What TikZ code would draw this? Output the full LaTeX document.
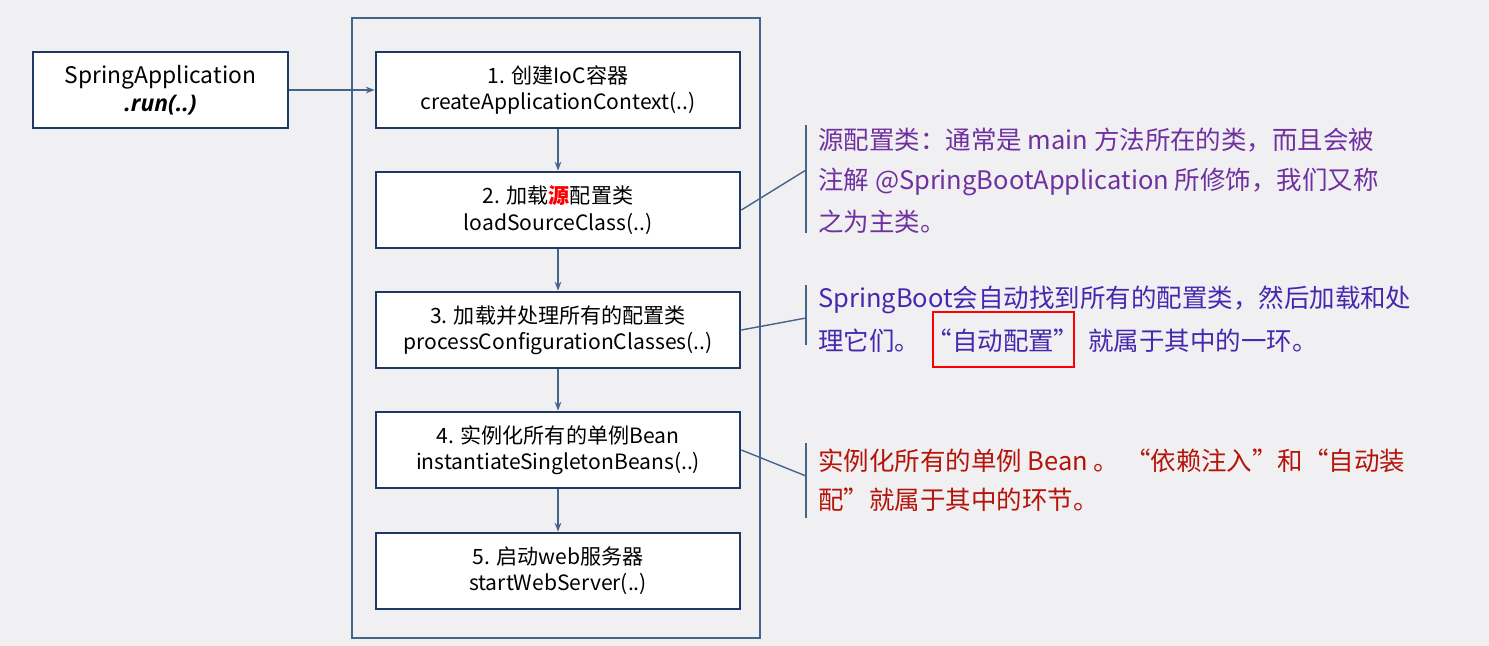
\documentclass[tikz,border=0pt]{standalone}
\usepackage{fontspec}
\setmainfont{Noto Sans CJK SC}
\newfontfamily\latinit{Open Sans}
\usetikzlibrary{arrows.meta}
\definecolor{bg}{RGB}{240,240,242}
\definecolor{bx}{RGB}{31,56,100}
\definecolor{ln}{RGB}{68,100,140}
\definecolor{pu}{RGB}{112,48,160}
\definecolor{bp}{RGB}{70,40,175}
\definecolor{dr}{RGB}{180,20,10}
\begin{document}
\begin{tikzpicture}[x=0.02cm,y=-0.02cm,
  box/.style={draw=bx,line width=1.6pt,fill=white,minimum width=7.28cm,minimum height=1.52cm,align=center,font=\fontsize{12}{15}\selectfont,inner sep=0pt},
  arr/.style={draw=ln,line width=0.8pt,-{Stealth[length=5pt]}},
  con/.style={draw=ln,line width=0.8pt},
  note/.style={anchor=west,font=\fontsize{14.5}{18}\selectfont,inner sep=0pt}]
\fill[bg] (0,0) rectangle (1489,646);
\useasboundingbox (0,0) rectangle (1489,646);
\draw[draw=ln,line width=1pt] (352,18) rectangle (760,638);
\node[box,minimum width=5.1cm,font=\fontsize{13}{16}\selectfont] (sa) at (160.5,90) {SpringApplication\\{\latinit\bfseries\itshape .run(..)}};
\node[box] (b1) at (558,90) {1. 创建IoC容器\\createApplicationContext(..)};
\node[box] (b2) at (558,210) {2. 加载{\color{red}\bfseries 源}配置类\\loadSourceClass(..)};
\node[box] (b3) at (558,330) {3. 加载并处理所有的配置类\\processConfigurationClasses(..)};
\node[box] (b4) at (558,450) {4. 实例化所有的单例Bean\\instantiateSingletonBeans(..)};
\node[box] (b5) at (558,571) {5. 启动web服务器\\startWebServer(..)};
\draw[arr] (sa.east) -- (b1.west);
\draw[arr] (b1) -- (b2);
\draw[arr] (b2) -- (b3);
\draw[arr] (b3) -- (b4);
\draw[arr] (b4) -- (b5);
\coordinate (t1) at (806,125); \coordinate (u1) at (806,233); \coordinate (m1) at (806,170);
\coordinate (t2) at (806,285); \coordinate (u2) at (806,345); \coordinate (m2) at (806,318);
\coordinate (t3) at (806,443); \coordinate (u3) at (806,518); \coordinate (m3) at (806,476);
\draw[con] (t1) -- (u1); \draw[con] (b2.east) -- (m1);
\draw[con] (t2) -- (u2); \draw[con] (b3.east) -- (m2);
\draw[con] (t3) -- (u3); \draw[con] (b4.east) -- (m3);
\node[note,text=pu] (n1a) at (818,140) {源配置类：通常是 main 方法所在的类，而且会被};
\node[note,text=pu] (n1b) at (818,182) {注解 @SpringBootApplication 所修饰，我们又称};
\node[note,text=pu] (n1c) at (818,222) {之为主类。};
\node[note,text=bp] (n2a) at (818,300) {SpringBoot会自动找到所有的配置类，然后加载和处};
\node[note,text=bp] (n2b) at (818,341) {理它们。};
\node[note,text=bp,anchor=center] (n2c) at (1003,341) {“自动配置”};
\node[note,text=bp] (n2d) at (1088,341) {就属于其中的一环。};
\draw[red,line width=1pt] (933,312) rectangle (1074,367);
\node[note,text=dr] (n3a) at (818,461) {实例化所有的单例 Bean 。 “依赖注入”和“自动装};
\node[note,text=dr] (n3b) at (818,500) {配”就属于其中的环节。};
\end{tikzpicture}
\end{document}
